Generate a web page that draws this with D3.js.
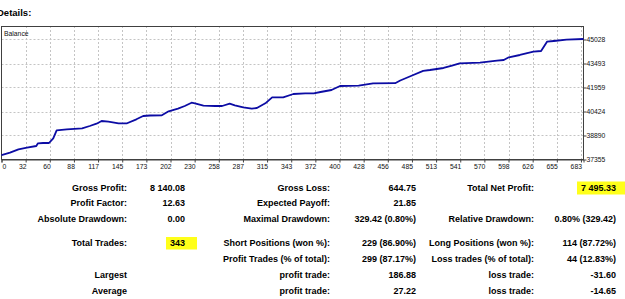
<!DOCTYPE html>
<html>
<head>
<meta charset="utf-8">
<script src="https://cdn.jsdelivr.net/npm/d3@7"></script>
<style>
  body { margin: 0; background: #fff; }
  svg { display: block; }
</style>
</head>
<body>
<svg></svg>
<script>
const width = 625
const height = 299

// balance curve: deal number / balance
const dealNo = [0, 10, 20, 30, 41, 43, 49, 56, 61, 65, 77, 95, 104, 112, 118, 126, 138, 148, 159, 167,
  175, 189, 197, 208, 216, 224, 228, 238, 252, 260, 269, 275, 285, 295, 301, 311, 319, 332, 344, 358,
  368, 376, 389, 399, 421, 438, 464, 470, 484, 497, 505, 521, 531, 540, 564, 584, 592, 598, 611, 627,
  636, 643, 651, 666, 686]
const balance = [37640, 37790, 38007, 38109, 38218, 38391, 38410, 38410, 38711, 39222, 39286, 39350, 39497, 39644, 39817, 39772, 39670, 39670, 39925, 40136,
  40168, 40181, 40437, 40603, 40776, 40987, 40948, 40795, 40776, 40776, 40923, 40821, 40693, 40603, 40648, 40948, 41332, 41332, 41543, 41588,
  41588, 41671, 41799, 42055, 42074, 42227, 42234, 42406, 42726, 43026, 43078, 43206, 43353, 43506, 43544, 43672, 43717, 43890, 44037, 44248,
  44292, 44887, 44932, 45015, 45060]

const xTickLabels = ['0', '32', '60', '88', '117', '145', '173', '202', '230', '258', '287', '315', '343',
  '372', '400', '428', '456', '485', '513', '541', '570', '598', '626', '655', '683']
const yTickValues = [37355, 38890, 40424, 41959, 43493, 45028]

// report table
const names1 = ['Gross Profit:', 'Profit Factor:', 'Absolute Drawdown:', 'Total Trades:', '', 'Largest', 'Average']
const values1 = ['8 140.08', '12.63', '0.00', '343', '', '', '']
const names2 = ['Gross Loss:', 'Expected Payoff:', 'Maximal Drawdown:', 'Short Positions (won %):', 'Profit Trades (% of total):', 'profit trade:', 'profit trade:']
const values2 = ['644.75', '21.85', '329.42 (0.80%)', '229 (86.90%)', '299 (87.17%)', '186.88', '27.22']
const names3 = ['Total Net Profit:', '', 'Relative Drawdown:', 'Long Positions (won %):', 'Loss trades (% of total):', 'loss trade:', 'loss trade:']
const values3 = ['7 495.33', '', '0.80% (329.42)', '114 (87.72%)', '44 (12.83%)', '-31.60', '-14.65']

// layout
const plot = { left: 1.5, right: 583.5, top: 26, bottom: 159.5 }
const rowY = [187.5, 203, 219, 243, 259, 275, 291]
const colEnds = [127, 185, 330, 416, 534, 616]

const svg = d3.select('svg')
  .attr('width', width)
  .attr('height', height)
  .style('font-family', '"Liberation Sans", Arial, sans-serif')

const x = d3.scaleLinear()
  .domain([0, 686])
  .range([plot.left, plot.right])

const y = d3.scaleLinear()
  .domain([37355, 45891])
  .range([plot.bottom, plot.top])

const xTickValues = xTickLabels.map((d, i) => i * 683 / 24)

svg.append('text')
  .attr('x', -3)
  .attr('y', 16)
  .attr('font-size', 9.5)
  .attr('font-weight', 'bold')
  .text('Details:')

// grid
const grid = svg.append('g')
  .attr('stroke', '#c4c4c4')
  .attr('stroke-dasharray', '2,2')
  .attr('stroke-width', 1)

grid.selectAll('.vgrid')
  .data(xTickValues.slice(1))
  .join('line')
  .attr('x1', d => Math.round(x(d)) + 0.5)
  .attr('x2', d => Math.round(x(d)) + 0.5)
  .attr('y1', plot.top)
  .attr('y2', plot.bottom)

grid.selectAll('.hgrid')
  .data(yTickValues.slice(1))
  .join('line')
  .attr('x1', plot.left)
  .attr('x2', plot.right)
  .attr('y1', d => Math.round(y(d)) + 0.5)
  .attr('y2', d => Math.round(y(d)) + 0.5)

// frame
svg.append('rect')
  .attr('x', plot.left)
  .attr('y', plot.top + 0.5)
  .attr('width', plot.right - plot.left)
  .attr('height', plot.bottom - plot.top - 0.5)
  .attr('fill', 'none')
  .attr('stroke', '#404040')

// x axis
const xAxis = d3.axisBottom(x)
  .tickValues(xTickValues)
  .tickSize(3)
  .tickFormat((d, i) => xTickLabels[i])

const gx = svg.append('g')
  .attr('transform', `translate(0,${plot.bottom})`)
  .call(xAxis)
gx.select('.domain').attr('stroke', '#404040')
gx.selectAll('.tick line').attr('stroke', '#404040')
gx.selectAll('.tick text')
  .attr('font-size', 6.8)
  .attr('font-family', '"Liberation Sans", Arial, sans-serif')
  .attr('fill', '#111')
  .attr('y', 5)
  .attr('text-anchor', (d, i) => i === 0 ? 'start' : 'end')
  .attr('x', (d, i) => i === 0 ? 0.5 : 0.5)

// y axis on the right
const yAxis = d3.axisRight(y)
  .tickValues(yTickValues)
  .tickSize(3)
  .tickFormat(d3.format('d'))

const gy = svg.append('g')
  .attr('transform', `translate(${plot.right},0)`)
  .call(yAxis)
gy.select('.domain').remove()
gy.selectAll('.tick line').attr('stroke', '#404040')
gy.selectAll('.tick text')
  .attr('font-size', 6.8)
  .attr('font-family', '"Liberation Sans", Arial, sans-serif')
  .attr('fill', '#111')
  .attr('x', 3)

svg.append('text')
  .attr('x', 4)
  .attr('y', 35.5)
  .attr('font-size', 6.8)
  .attr('fill', '#111')
  .text('Balance')

// balance line
const line = d3.line()
  .x((d, i) => x(dealNo[i]))
  .y(d => y(d))

svg.append('path')
  .datum(balance)
  .attr('d', line)
  .attr('fill', 'none')
  .attr('stroke', '#0c0ca4')
  .attr('stroke-width', 1.8)
  .attr('stroke-linejoin', 'round')

// highlight boxes
svg.append('rect')
  .attr('x', 166).attr('y', 237)
  .attr('width', 31).attr('height', 12.5)
  .attr('fill', '#ffff1a')
svg.append('rect')
  .attr('x', 577).attr('y', 181.5)
  .attr('width', 48).attr('height', 13)
  .attr('fill', '#ffff1a')

// table text
const columns = [names1, values1, names2, values2, names3, values3]
const table = svg.append('g')
  .attr('font-size', 9)
  .attr('font-weight', 'bold')
  .attr('text-anchor', 'end')

columns.forEach((col, c) => {
  table.selectAll('.col' + c)
    .data(col)
    .join('text')
    .attr('class', 'col' + c)
    .attr('x', colEnds[c])
    .attr('y', (d, i) => rowY[i] + 3.2)
    .text(d => d)
})
</script>
</body>
</html>
